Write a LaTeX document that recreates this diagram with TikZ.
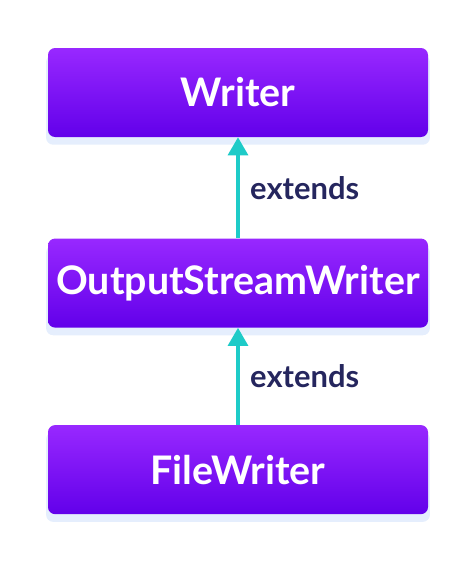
\documentclass[tikz,border=0pt]{standalone}
\usepackage{fontspec}
\setmainfont{Lato}
\usepackage{tikz}
\usetikzlibrary{arrows.meta,positioning,shadows}
\usepackage{xcolor}
\definecolor{violettop}{RGB}{152,40,255}
\definecolor{violetbottom}{RGB}{98,0,234}
\definecolor{arrowteal}{RGB}{30,203,200}
\definecolor{labelnavy}{RGB}{37,38,94}
\definecolor{shadowblue}{RGB}{222,234,252}
\tikzset{
  classbox/.style={rectangle, rounded corners=5pt, top color=violettop, bottom color=violetbottom,
                   draw=none, minimum width=9.5cm, minimum height=2.225cm, inner xsep=0pt, align=center,
                   text=white, font=\fontsize{28}{34}\selectfont\bfseries,
                   drop shadow={fill=shadowblue, opacity=0.8, shadow xshift=0pt, shadow yshift=-0.18cm, shadow scale=1.01}},
  extendarrow/.style={-{Triangle[length=0.45cm, width=0.5cm]}, line width=2.2pt, arrowteal},
  tag/.style={font=\fontsize{22}{26}\selectfont\bfseries, text=labelnavy, anchor=west},
}
\begin{document}
\begin{tikzpicture}
\useasboundingbox (0,0) rectangle (11.9,-14.05);
\node[classbox] (writer) at (5.95,-2.3125) {Writer};
\node[classbox, below=2.525cm of writer] (osw) {OutputStreamWriter};
\node[classbox, below=2.425cm of osw] (fw) {FileWriter};
\draw[extendarrow] (osw) -- (writer) node[midway, tag, xshift=0.15cm]{extends};
\draw[extendarrow] (fw) -- (osw) node[midway, tag, xshift=0.15cm]{extends};
\end{tikzpicture}
\end{document}
